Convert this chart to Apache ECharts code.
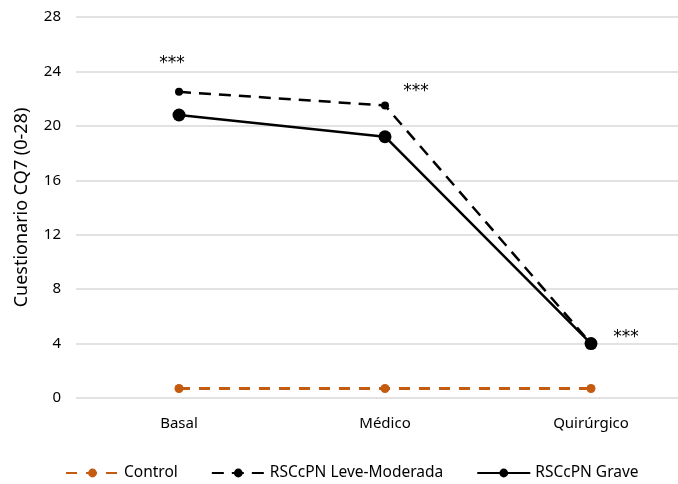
<!DOCTYPE html>
<html><head><meta charset="utf-8">
<script src="https://cdn.jsdelivr.net/npm/echarts@6/dist/echarts.min.js"></script>
<style>html,body{margin:0;padding:0;background:#fff}#c{width:678px;height:484px}</style>
</head><body><div id="c"></div>
<script>
var categories = ['Basal', 'Médico', 'Quirúrgico'];
var controlValues = [0.7, 0.7, 0.7];
var leveValues = [22.5, 21.5, 4.0];
var graveValues = [20.8, 19.2, 4.0];
var yTicks = [0, 4, 8, 12, 16, 20, 24, 28];
var seriesNames = ['Control', 'RSCcPN Leve-Moderada', 'RSCcPN Grave'];
var sigMark = '***';

var FONT = 'Noto Sans';
var chart = echarts.init(document.getElementById('c'), null, {renderer: 'canvas'});

function withLabel(values, marks) {
  return values.map(function (v, i) {
    if (!marks[i]) return v;
    return {value: v, label: {show: true, formatter: sigMark, position: 'inside', offset: marks[i],
      color: '#000', fontSize: 17, fontFamily: 'DejaVu Sans', fontWeight: 'normal'}};
  });
}

chart.setOption({
  animation: false,
  backgroundColor: '#fff',
  grid: {left: 76, right: -16, top: 17, bottom: 86, outerBoundsMode: 'none', containLabel: false},
  legend: {
    left: 60, top: 460, itemWidth: 53, itemHeight: 11, itemGap: 33,
    textStyle: {fontFamily: FONT, fontSize: 15.5, color: '#000'},
    data: seriesNames
  },
  xAxis: {
    type: 'category', data: categories, boundaryGap: true,
    axisLine: {show: false}, axisTick: {show: false},
    axisLabel: {fontFamily: FONT, fontSize: 15, color: '#000', margin: 18}
  },
  yAxis: {
    type: 'value', min: 0, max: 28, interval: 4,
    name: 'Cuestionario CQ7 (0-28)', nameLocation: 'middle', nameGap: 45,
    nameTextStyle: {fontFamily: FONT, fontSize: 18, color: '#000'},
    axisLine: {show: false}, axisTick: {show: false},
    axisLabel: {fontFamily: FONT, fontSize: 15, color: '#000', margin: 15,
      formatter: function (v) { return yTicks.indexOf(v) >= 0 ? String(v) : ''; }},
    splitLine: {lineStyle: {color: '#d9d9d9', width: 1.5}}
  },
  series: [
    {
      name: seriesNames[0], type: 'line', data: controlValues,
      symbol: 'circle', symbolSize: 9,
      lineStyle: {color: '#C55A11', width: 3, type: [11, 9]},
      itemStyle: {color: '#C55A11'}
    },
    {
      name: seriesNames[1], type: 'line', data: withLabel(leveValues, [[-7, -28], [31, -14], null]),
      symbol: 'circle', symbolSize: 8,
      lineStyle: {color: '#000', width: 2.5, type: [12, 8]},
      itemStyle: {color: '#000'}, z: 3
    },
    {
      name: seriesNames[2], type: 'line', data: withLabel(graveValues, [null, null, [35, -6]]),
      symbol: 'circle', symbolSize: 13,
      lineStyle: {color: '#000', width: 2.5, type: 'solid'},
      itemStyle: {color: '#000'}, z: 4
    }
  ]
});
</script></body></html>
